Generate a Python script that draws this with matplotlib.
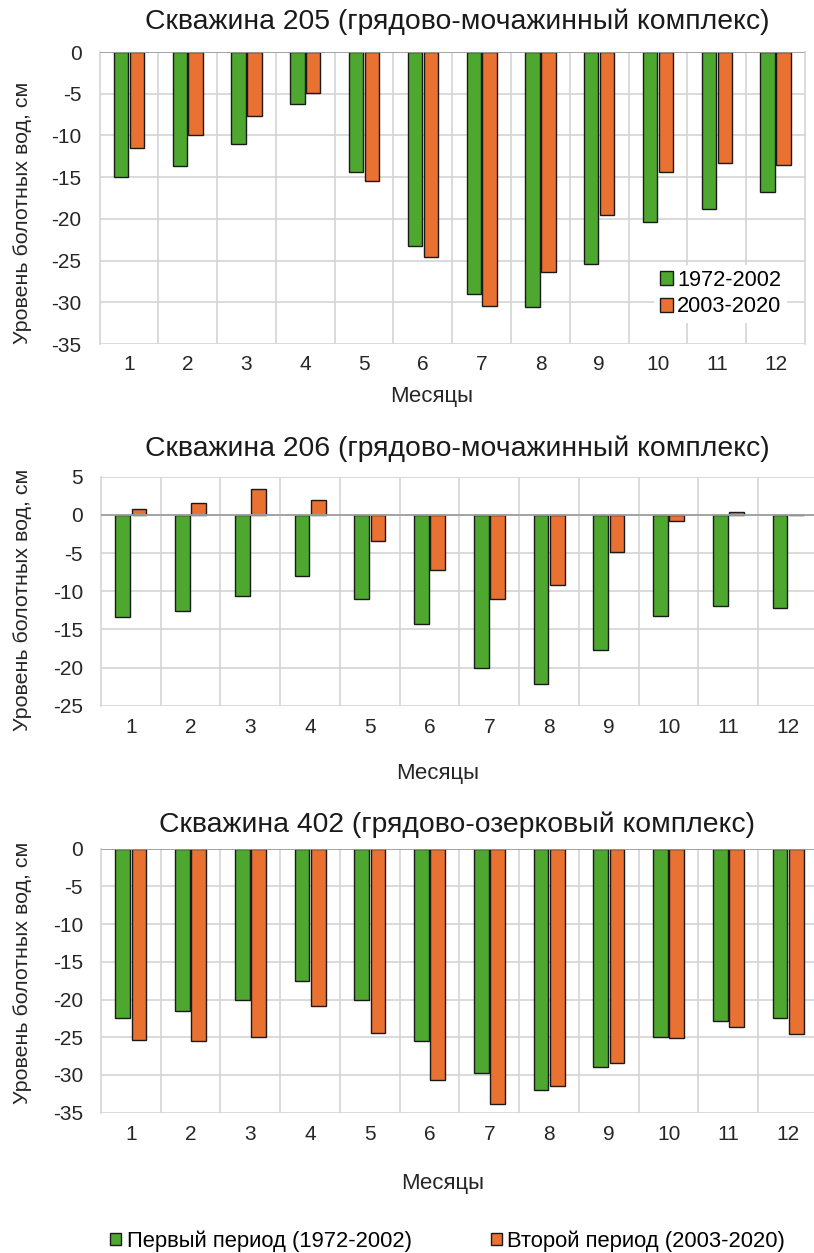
import matplotlib
matplotlib.use("Agg")
import matplotlib.pyplot as plt
import numpy as np
from matplotlib.patches import Patch

plt.rcParams["font.family"] = ["Liberation Sans", "DejaVu Sans"]
plt.rcParams["axes.unicode_minus"] = False

months = [str(m) for m in range(1, 13)]

# Скважина 205
w205_p1 = [-15.0, -13.7, -11.0, -6.2, -14.4, -23.3, -29.0, -30.6, -25.4, -20.4, -18.8, -16.8]
w205_p2 = [-11.5, -10.0, -7.7, -4.9, -15.5, -24.6, -30.4, -26.4, -19.5, -14.4, -13.3, -13.5]
# Скважина 206
w206_p1 = [-13.4, -12.6, -10.6, -8.0, -11.0, -14.3, -20.0, -22.1, -17.7, -13.2, -12.0, -12.2]
w206_p2 = [0.8, 1.6, 3.4, 2.0, -3.4, -7.2, -11.0, -9.2, -4.8, -0.8, 0.4, 0.0]
# Скважина 402
w402_p1 = [-22.4, -21.5, -20.1, -17.5, -20.0, -25.5, -29.8, -32.0, -29.0, -25.0, -22.9, -22.5]
w402_p2 = [-25.3, -25.5, -25.0, -20.9, -24.4, -30.6, -33.8, -31.4, -28.4, -25.1, -23.7, -24.5]

titles = ["Скважина 205 (грядово-мочажинный комплекс)",
          "Скважина 206 (грядово-мочажинный комплекс)",
          "Скважина 402 (грядово-озерковый комплекс)"]

GREEN = "#4ea72e"
ORANGE = "#e97132"
GRID = "#d4d4d4"
AXC = "#a0a0a0"
TXT = "#262626"

W, H = 814, 1253
fig = plt.figure(figsize=(W / 100, H / 100), dpi=100)


def frac(x0, y_top, x1, y_bot):
    return [x0 / W, 1 - y_bot / H, (x1 - x0) / W, (y_bot - y_top) / H]


# rect, green, orange, ylim, title y, xlabel y, xlabel x, ylabel y (axes frac)
panels = [
    (frac(99.5, 52, 805, 344), w205_p1, w205_p2, (-35, 0), 22, 397, 432, 0.45),
    (frac(101, 476.7, 818, 705.7), w206_p1, w206_p2, (-25, 5), 449, 773, 438, 0.46),
    (frac(101, 848.7, 818, 1112.7), w402_p1, w402_p2, (-35, 0), 825, 1183, 443, 0.53),
]

x = np.arange(len(months))
bw = 0.245
for i, (rect, p1, p2, ylim, ty, xly, xlx, yly) in enumerate(panels):
    ax = fig.add_axes(rect)
    ax.bar(x - 0.135, p1, bw, color=GREEN, edgecolor="#1a1a1a", linewidth=1.0, zorder=3)
    ax.bar(x + 0.135, p2, bw, color=ORANGE, edgecolor="#1a1a1a", linewidth=1.0, zorder=3)
    ax.set_xlim(-0.5, 11.5)
    ax.set_ylim(*ylim)
    ax.set_yticks(np.arange(ylim[0], ylim[1] + 1, 5))
    ax.set_xticks(x)
    ax.set_xticklabels(months)
    # vertical gridlines at category boundaries
    for b in np.arange(0.5, 11.5, 1.0):
        ax.axvline(b, color=GRID, lw=1.2, zorder=0)
    ax.yaxis.grid(True, color=GRID, lw=1.2, zorder=0)
    ax.set_axisbelow(True)
    ax.axhline(0, color=AXC, lw=1.3, zorder=4)
    for s in ["top", "bottom"]:
        ax.spines[s].set_visible(False)
    for s in ["left", "right"]:
        ax.spines[s].set_color(GRID)
        ax.spines[s].set_linewidth(1.2)
    ax.tick_params(axis="both", length=0, labelsize=15, colors=TXT)
    ax.tick_params(axis="x", pad=8 if i == 0 else 9)
    ax.tick_params(axis="y", pad=13)
    ax.set_ylabel("Уровень болотных вод, см", fontsize=15.4, color=TXT)
    ax.yaxis.set_label_coords((32 - rect[0] * W) / (rect[2] * W), yly)
    fig.text(457 / W, 1 - ty / H, titles[i], ha="center", va="center", fontsize=20.4, color="#1a1a1a")
    fig.text(xlx / W, 1 - xly / H, "Месяцы", ha="center", va="center", fontsize=16, color=TXT)
    if i == 0:
        handles = [Patch(facecolor=GREEN, edgecolor="#1a1a1a", label="1972-2002"),
                   Patch(facecolor=ORANGE, edgecolor="#1a1a1a", label="2003-2020")]
        leg = ax.legend(handles=handles, loc="lower right", bbox_to_anchor=(0.99, 0.035),
                        fontsize=15.7, frameon=True, facecolor="white", edgecolor="none",
                        framealpha=1, handlelength=0.6, handleheight=0.6, handletextpad=0.2,
                        labelspacing=0.25, borderpad=0.25, fancybox=False)
        leg.set_zorder(5)

handles = [Patch(facecolor=GREEN, edgecolor="#1a1a1a", label="Первый период (1972-2002)"),
           Patch(facecolor=ORANGE, edgecolor="#1a1a1a", label="Второй период (2003-2020)")]
fig.legend(handles=handles, loc="center", bbox_to_anchor=(447.5 / W, 1 - 1241 / H), ncol=2,
           fontsize=15.8, frameon=False, handlelength=0.5, handleheight=0.5,
           handletextpad=0.25, columnspacing=3.6)

fig.savefig("out.png", dpi=100)
